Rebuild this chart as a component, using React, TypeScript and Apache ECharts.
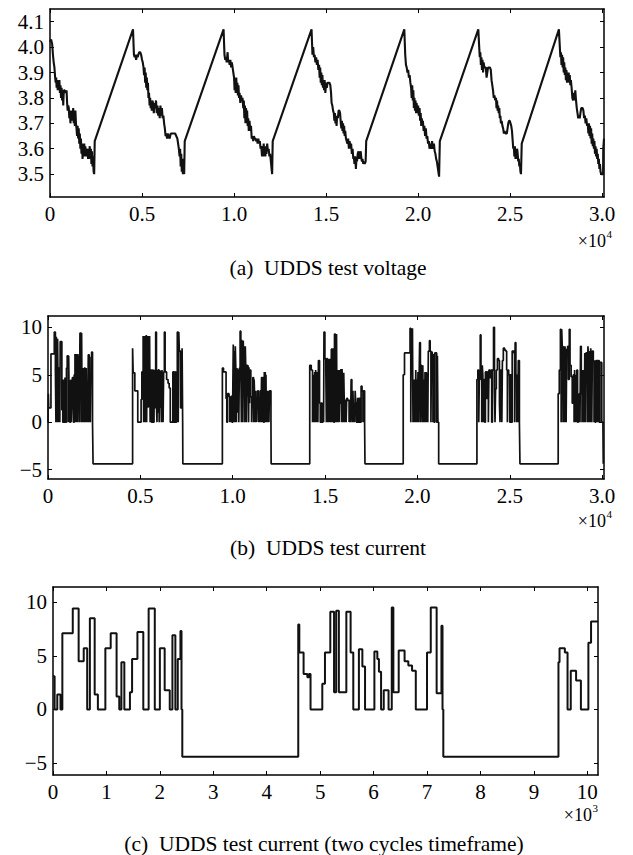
import React, { useEffect, useRef } from "react";
import * as echarts from "echarts";

// ---------- Panel (a): UDDS test voltage (time s, voltage V) ----------
const voltSeg1 = [
  [0, 4.02], [60, 4.03], [120, 4.01], [160, 3.97], [200, 3.94], [240, 3.92], [280, 3.88], [310, 3.86], [335, 3.88],
  [360, 3.84], [390, 3.87], [420, 3.83], [450, 3.86], [480, 3.84], [510, 3.87], [540, 3.82], [570, 3.85], [600, 3.8],
  [630, 3.84], [660, 3.79], [690, 3.83], [720, 3.77], [750, 3.83], [800, 3.83], [850, 3.82], [900, 3.83], [930, 3.78],
  [960, 3.75], [990, 3.77], [1020, 3.76], [1050, 3.72], [1080, 3.75], [1110, 3.7], [1140, 3.74], [1170, 3.71],
  [1200, 3.75], [1230, 3.72], [1260, 3.76], [1290, 3.7], [1320, 3.73], [1350, 3.69], [1380, 3.75], [1410, 3.7],
  [1440, 3.68], [1470, 3.65], [1500, 3.69], [1530, 3.64], [1560, 3.68], [1590, 3.62], [1620, 3.66], [1650, 3.6],
  [1680, 3.64], [1710, 3.58], [1740, 3.62], [1770, 3.56], [1800, 3.61], [1830, 3.57], [1860, 3.62], [1890, 3.58],
  [1920, 3.61], [1950, 3.57], [1980, 3.6], [2010, 3.58], [2040, 3.6], [2070, 3.56], [2100, 3.6], [2130, 3.58],
  [2160, 3.61], [2190, 3.56], [2220, 3.6], [2250, 3.54], [2280, 3.59], [2310, 3.53], [2340, 3.57], [2370, 3.51],
  [2400, 3.5], [2430, 3.63], [4510, 4.07],
];
const voltSeg2 = [
  [4560, 3.97], [4600, 3.96], [4640, 3.97], [4680, 3.95], [4720, 3.97], [4760, 3.96], [4800, 3.97], [4850, 3.98],
  [4900, 3.98], [4950, 3.97], [5000, 3.95], [5040, 3.94], [5080, 3.92], [5110, 3.89], [5140, 3.92], [5170, 3.86],
  [5200, 3.9], [5230, 3.84], [5260, 3.88], [5290, 3.83], [5320, 3.86], [5350, 3.8], [5380, 3.82], [5410, 3.77],
  [5440, 3.8], [5470, 3.76], [5500, 3.79], [5530, 3.75], [5560, 3.79], [5600, 3.78], [5640, 3.74], [5680, 3.78],
  [5720, 3.76], [5760, 3.79], [5800, 3.74], [5840, 3.77], [5880, 3.73], [5920, 3.76], [5960, 3.72], [6000, 3.77],
  [6040, 3.73], [6080, 3.76], [6120, 3.72], [6160, 3.73], [6200, 3.7], [6240, 3.68], [6280, 3.65], [6320, 3.66],
  [6360, 3.64], [6400, 3.66], [6450, 3.65], [6500, 3.64], [6560, 3.66], [6640, 3.66], [6720, 3.66], [6800, 3.66],
  [6860, 3.65], [6920, 3.64], [6960, 3.62], [7000, 3.6], [7040, 3.57], [7070, 3.6], [7100, 3.53], [7130, 3.58],
  [7160, 3.51], [7190, 3.56], [7220, 3.5], [7250, 3.55], [7290, 3.5], [7320, 3.63], [9430, 4.07],
];
const voltSeg3 = [
  [9480, 3.97], [9520, 3.95], [9560, 3.96], [9600, 3.94], [9650, 3.98], [9680, 3.94], [9720, 3.95], [9760, 3.93],
  [9800, 3.95], [9840, 3.92], [9880, 3.94], [9920, 3.92], [9960, 3.9], [10000, 3.88], [10030, 3.83], [10060, 3.87],
  [10090, 3.82], [10120, 3.88], [10150, 3.83], [10180, 3.86], [10210, 3.81], [10240, 3.85], [10270, 3.8],
  [10300, 3.82], [10340, 3.78], [10380, 3.81], [10420, 3.79], [10460, 3.8], [10500, 3.76], [10530, 3.79],
  [10560, 3.72], [10590, 3.77], [10620, 3.7], [10650, 3.76], [10680, 3.71], [10710, 3.75], [10740, 3.69],
  [10770, 3.72], [10800, 3.67], [10840, 3.71], [10880, 3.67], [10920, 3.69], [10960, 3.64], [11000, 3.65],
  [11040, 3.63], [11080, 3.65], [11120, 3.64], [11160, 3.64], [11200, 3.63], [11240, 3.64], [11280, 3.62],
  [11320, 3.64], [11360, 3.62], [11400, 3.63], [11440, 3.6], [11480, 3.61], [11520, 3.57], [11550, 3.61],
  [11580, 3.57], [11610, 3.62], [11640, 3.58], [11670, 3.61], [11700, 3.57], [11730, 3.6], [11760, 3.58],
  [11800, 3.62], [11840, 3.59], [11880, 3.6], [11920, 3.57], [11960, 3.58], [12000, 3.55], [12040, 3.52],
  [12070, 3.5], [12100, 3.63], [14210, 4.07],
];
const voltSeg4 = [
  [14260, 3.97], [14300, 4.0], [14340, 3.96], [14380, 3.97], [14420, 3.94], [14460, 3.96], [14500, 3.93],
  [14540, 3.95], [14580, 3.91], [14620, 3.93], [14650, 3.88], [14680, 3.92], [14710, 3.86], [14740, 3.9],
  [14770, 3.85], [14800, 3.89], [14830, 3.84], [14860, 3.87], [14890, 3.83], [14920, 3.87], [14960, 3.82],
  [15000, 3.86], [15040, 3.84], [15080, 3.86], [15130, 3.86], [15180, 3.86], [15230, 3.85], [15270, 3.82],
  [15300, 3.78], [15340, 3.77], [15380, 3.75], [15420, 3.74], [15450, 3.71], [15480, 3.74], [15510, 3.7],
  [15540, 3.73], [15570, 3.69], [15600, 3.73], [15640, 3.72], [15680, 3.75], [15720, 3.75], [15760, 3.74],
  [15800, 3.7], [15830, 3.68], [15860, 3.71], [15890, 3.67], [15920, 3.7], [15950, 3.66], [15980, 3.69],
  [16010, 3.65], [16040, 3.67], [16080, 3.64], [16120, 3.63], [16160, 3.62], [16200, 3.64], [16240, 3.6],
  [16280, 3.63], [16320, 3.6], [16360, 3.62], [16400, 3.58], [16440, 3.6], [16480, 3.56], [16510, 3.57],
  [16540, 3.54], [16580, 3.57], [16620, 3.52], [16650, 3.56], [16680, 3.55], [16720, 3.58], [16760, 3.59],
  [16800, 3.56], [16840, 3.58], [16880, 3.59], [16920, 3.56], [16950, 3.55], [16980, 3.56], [17020, 3.54],
  [17060, 3.55], [17100, 3.54], [17150, 3.55], [17180, 3.63], [19250, 4.07],
];
const voltSeg5 = [
  [19300, 3.97], [19340, 3.93], [19380, 3.92], [19420, 3.9], [19460, 3.91], [19500, 3.88], [19540, 3.89],
  [19580, 3.86], [19620, 3.84], [19650, 3.8], [19680, 3.85], [19710, 3.79], [19740, 3.83], [19770, 3.76],
  [19800, 3.8], [19830, 3.75], [19860, 3.79], [19890, 3.74], [19920, 3.78], [19960, 3.74], [20000, 3.77],
  [20040, 3.73], [20080, 3.76], [20110, 3.71], [20140, 3.74], [20170, 3.69], [20200, 3.72], [20230, 3.69],
  [20260, 3.71], [20300, 3.67], [20340, 3.69], [20380, 3.65], [20420, 3.68], [20460, 3.64], [20500, 3.65],
  [20540, 3.62], [20580, 3.63], [20620, 3.6], [20660, 3.62], [20700, 3.6], [20760, 3.63], [20800, 3.6],
  [20860, 3.62], [20900, 3.59], [20940, 3.58], [20980, 3.56], [21020, 3.55], [21060, 3.53], [21100, 3.51],
  [21140, 3.49], [21180, 3.63], [23270, 4.07],
];
const voltSeg6 = [
  [23320, 4.0], [23350, 3.96], [23380, 3.98], [23410, 3.93], [23440, 3.96], [23470, 3.91], [23500, 3.95],
  [23530, 3.9], [23560, 3.94], [23600, 3.92], [23640, 3.92], [23680, 3.92], [23720, 3.88], [23760, 3.9],
  [23800, 3.92], [23850, 3.92], [23900, 3.92], [23950, 3.91], [23990, 3.87], [24030, 3.85], [24070, 3.83],
  [24110, 3.8], [24150, 3.81], [24190, 3.79], [24230, 3.8], [24260, 3.76], [24290, 3.79], [24320, 3.75],
  [24350, 3.77], [24380, 3.74], [24410, 3.76], [24440, 3.72], [24470, 3.73], [24500, 3.7], [24540, 3.71],
  [24580, 3.69], [24620, 3.68], [24660, 3.66], [24700, 3.67], [24740, 3.66], [24780, 3.66], [24820, 3.66],
  [24860, 3.68], [24900, 3.7], [24940, 3.71], [24980, 3.71], [25020, 3.7], [25060, 3.69], [25100, 3.67],
  [25140, 3.63], [25170, 3.6], [25200, 3.61], [25230, 3.57], [25260, 3.61], [25290, 3.56], [25320, 3.6],
  [25350, 3.56], [25380, 3.6], [25410, 3.58], [25440, 3.55], [25470, 3.56], [25500, 3.53], [25530, 3.54],
  [25560, 3.51], [25590, 3.5], [25630, 3.62], [27650, 4.07],
];
const voltSeg7 = [
  [27700, 4.0], [27730, 3.96], [27760, 3.98], [27790, 3.93], [27820, 3.97], [27850, 3.92], [27880, 3.96],
  [27910, 3.9], [27940, 3.94], [27970, 3.89], [28000, 3.92], [28030, 3.87], [28060, 3.91], [28090, 3.86],
  [28120, 3.9], [28150, 3.87], [28180, 3.9], [28210, 3.86], [28240, 3.89], [28270, 3.85], [28300, 3.87],
  [28340, 3.84], [28380, 3.8], [28420, 3.79], [28460, 3.82], [28500, 3.79], [28540, 3.83], [28580, 3.79],
  [28620, 3.76], [28660, 3.74], [28700, 3.72], [28740, 3.73], [28780, 3.72], [28820, 3.74], [28860, 3.76],
  [28900, 3.76], [28940, 3.76], [28980, 3.75], [29020, 3.72], [29060, 3.73], [29100, 3.7], [29140, 3.72],
  [29180, 3.69], [29220, 3.7], [29250, 3.66], [29280, 3.7], [29310, 3.65], [29340, 3.69], [29370, 3.64],
  [29400, 3.68], [29430, 3.62], [29460, 3.66], [29490, 3.61], [29520, 3.64], [29550, 3.6], [29580, 3.63],
  [29610, 3.58], [29640, 3.61], [29670, 3.57], [29700, 3.6], [29730, 3.56], [29760, 3.58], [29790, 3.54],
  [29820, 3.56], [29850, 3.52], [29880, 3.54], [29910, 3.51], [29950, 3.5], [30000, 3.5], [30050, 3.5],
  [30060, 3.6], [30080, 3.6], [30100, 3.64],
];

// ---------- Panel (b): UDDS test current, full test (time s, current A) ----------
const curSeg1 = [
  [0, 0], [20, 3], [40, 1.5], [160, 7.2], [340, 9.5], [400, 5.5], [430, 0], [450, 9], [470, 5.5], [500, 0],
  [520, 8.8], [540, 4.5], [570, 0], [600, 5.7], [640, 0], [660, 8.5], [750, 1.3], [800, 0], [840, 4.5], [870, 0],
  [920, 4.7], [950, 0], [1000, 5.7], [1040, 7], [1100, 0], [1120, 7], [1150, 1.2], [1180, 0], [1220, 4.4],
  [1260, 0], [1290, 1.6], [1320, 4.7], [1380, 0], [1420, 5], [1460, 7.2], [1480, 0], [1500, 7], [1520, 2],
  [1540, 7.2], [1560, 0], [1580, 6.8], [1600, 0], [1620, 7.2], [1650, 3], [1680, 7], [1700, 0], [1730, 9.4],
  [1800, 0], [1820, 9.4], [1850, 0], [1870, 5.5], [1890, 0], [1910, 5.7], [1930, 1], [1950, 5.5], [1970, 0],
  [1990, 5.8], [2020, 1.8], [2050, 0], [2070, 5.7], [2090, 0], [2120, 1.8], [2150, 0], [2180, 7.1], [2230, 0],
  [2260, 6.9], [2290, 0], [2320, 4.7], [2360, 7.4], [2410, 0], [2440, -4.4],
];
const curSeg2 = [
  [4580, 7.8], [4610, 5.2], [4700, 3.3], [4860, 0], [5040, 2.4], [5080, 5.3], [5150, 9.1], [5180, 0],
  [5200, 9.1], [5220, 5.3], [5240, 9.1], [5260, 0], [5280, 9.1], [5300, 2], [5320, 9.2], [5340, 0], [5370, 9.1],
  [5400, 1.6], [5440, 9.1], [5470, 5.5], [5500, 9.1], [5530, 0], [5560, 5.5], [5600, 0], [5650, 5.5], [5700, 0],
  [5740, 1.5], [5790, 5.5], [5830, 9.5], [5870, 1.8], [5900, 0], [5930, 5.5], [5960, 1], [5990, 5.6], [6020, 0],
  [6050, 5.5], [6080, 1.5], [6110, 5.4], [6140, 0], [6170, 5.5], [6200, 1.8], [6230, 0], [6260, 5.3],
  [6300, 9.5], [6340, 5.3], [6420, 4.5], [6500, 4.1], [6560, 3.6], [6620, 0], [6760, 5.3], [6820, 0],
  [6860, 5.3], [6900, 0], [6960, 5.3], [7000, 9.5], [7050, 0], [7080, 9.5], [7110, 7.5], [7180, 1.5],
  [7260, 7.8], [7290, 0], [7300, -4.4],
];
const curSeg3 = [
  [9440, 5.7], [9500, 5.3], [9640, 2.5], [9680, 0], [9720, 3], [9800, 2.7], [9840, 0], [9870, 2.5], [9900, 0],
  [9930, 2.8], [9960, 0], [10000, 2.5], [10030, 8.2], [10060, 0], [10080, 7.5], [10110, 0], [10140, 8],
  [10170, 5.5], [10200, 0], [10230, 5.7], [10260, 1], [10290, 5.5], [10330, 0], [10360, 5.7], [10400, 9.6],
  [10440, 5.8], [10470, 0], [10490, 8.7], [10520, 5.7], [10550, 0], [10570, 8.6], [10600, 5.6], [10630, 8],
  [10660, 0], [10680, 8], [10710, 5.5], [10740, 0], [10760, 6], [10800, 2.7], [10830, 6], [10860, 0],
  [10880, 5.8], [10910, 2], [10940, 5.5], [10980, 2.7], [11020, 0], [11050, 2.7], [11090, 4.7], [11130, 0],
  [11160, 4.5], [11190, 2.5], [11220, 0], [11250, 3.3], [11280, 0], [11310, 2.5], [11350, 3.3], [11390, 0],
  [11420, 2.5], [11460, 0], [11490, 3.3], [11530, 0], [11560, 4.7], [11600, 0], [11630, 4.7], [11670, 0],
  [11710, 5.3], [11740, 0], [11760, 5.3], [11780, 0], [11800, 5], [11820, 0], [11850, 3.3], [11880, 0],
  [11900, 3.3], [11930, 2], [11960, 0], [11990, 3.3], [12070, 0], [12080, -4.4],
];
const curSeg4 = [
  [14170, 6], [14250, 5.5], [14320, 0], [14350, 5], [14380, 0], [14410, 2.5], [14440, 5.3], [14470, 0],
  [14490, 5.5], [14520, 2.4], [14550, 0], [14580, 5.3], [14610, 0], [14640, 6.5], [14700, 2], [14740, 0],
  [14780, 2], [14830, 0], [14880, 2], [14920, 0], [14940, 9.5], [14990, 6.7], [15040, 5.5], [15070, 0],
  [15090, 6.7], [15130, 3], [15160, 0], [15190, 6.7], [15220, 2.5], [15250, 0], [15280, 6.7], [15310, 0],
  [15340, 7.7], [15400, 0], [15420, 7.7], [15470, 0], [15510, 9.3], [15560, 5.5], [15590, 0], [15620, 9.3],
  [15640, 2], [15670, 0], [15700, 5.5], [15730, 2], [15760, 0], [15790, 5.5], [15820, 2], [15860, 5.6],
  [15890, 0], [15920, 5.6], [15950, 2], [15980, 0], [16010, 5.2], [16040, 2], [16070, 0], [16100, 2.3],
  [16140, 0], [16170, 2.5], [16220, 2.3], [16300, 0], [16330, 2.3], [16380, 0], [16410, 4.5], [16450, 2],
  [16480, 0], [16510, 3.3], [16540, 0], [16570, 2], [16600, 0], [16630, 3.3], [16660, 2], [16700, 0],
  [16760, 2.5], [16800, 0], [16840, 2.5], [16900, 0], [16950, 3.8], [17000, 3.3], [17050, 0], [17080, 3.3],
  [17140, 0], [17160, -4.4],
];
const curSeg5 = [
  [19230, 5], [19300, 7.3], [19600, 9.9], [19640, 0], [19660, 9.6], [19700, 5], [19730, 9.9], [19760, 0],
  [19790, 4.5], [19820, 0], [19850, 4.5], [19880, 0], [19910, 5.5], [19940, 0], [19970, 4.5], [20000, 0],
  [20030, 5.3], [20060, 0], [20090, 4.5], [20120, 8.4], [20160, 0], [20190, 6], [20230, 4.5], [20260, 0],
  [20290, 6], [20320, 0], [20350, 4.5], [20380, 0], [20410, 5.3], [20440, 0], [20470, 5.3], [20500, 0],
  [20530, 5.2], [20560, 0], [20590, 7.5], [20650, 8.6], [20690, 7.5], [20730, 0], [20760, 7.4], [20800, 7],
  [20840, 0], [20870, 7.2], [20900, 0], [20940, 7.3], [21000, 7.3], [21040, 0], [21080, 7], [21110, 0],
  [21150, -4.4],
];
const curSeg6 = [
  [23220, 4.5], [23270, 5.5], [23320, 0], [23350, 4.5], [23400, 9.2], [23440, 5], [23480, 0], [23510, 6],
  [23540, 5], [23570, 0], [23600, 4.5], [23640, 0], [23680, 5.3], [23740, 2.5], [23800, 5.3], [23840, 0],
  [23870, 5.5], [23920, 4.7], [23980, 5.5], [24020, 0], [24060, 5.5], [24120, 10], [24170, 3.5], [24200, 0],
  [24230, 3.5], [24270, 5.5], [24330, 6.7], [24400, 6.5], [24440, 2], [24470, 0], [24500, 5.5], [24540, 2],
  [24570, 0], [24600, 6.5], [24650, 7.8], [24720, 7.6], [24780, 7.5], [24830, 5.5], [24870, 0], [24900, 5.5],
  [24940, 5], [25000, 0], [25040, 5], [25090, 0], [25130, 7.5], [25220, 7.3], [25260, 0], [25290, 8.4],
  [25330, 5], [25370, 0], [25400, 5], [25430, 0], [25460, 6.5], [25520, 0], [25550, -4.4],
];
const curSeg7 = [
  [27620, 3], [27680, 5.5], [27740, 9.8], [27780, 0], [27810, 9.8], [27840, 8], [27880, 0], [27900, 8],
  [27930, 5.5], [27960, 0], [27990, 8], [28020, 5.5], [28050, 0], [28080, 7.7], [28130, 8], [28170, 4.5],
  [28220, 9.8], [28260, 6], [28320, 4.8], [28380, 2], [28440, 5], [28480, 0], [28510, 5.5], [28540, 0],
  [28570, 5], [28600, 0], [28630, 5.5], [28670, 0], [28710, 2], [28760, 3], [28800, 0], [28830, 8], [28870, 3],
  [28910, 0], [28940, 5.5], [28970, 0], [29000, 5.5], [29030, 0], [29060, 7.3], [29090, 0], [29120, 7.3],
  [29160, 7.3], [29200, 0], [29230, 8], [29260, 7], [29290, 0], [29320, 7.5], [29350, 0], [29380, 7.8],
  [29410, 7], [29440, 0], [29470, 7.5], [29520, 6.5], [29560, 0], [29590, 6.5], [29620, 0], [29660, 6.5],
  [29700, 0], [29730, 6.5], [29770, 0], [29800, 6.5], [29840, 0], [29880, 6.3], [29930, 6.3], [29980, 0],
  [30040, 0], [30060, -4.4],
];

// ---------- Panel (c): UDDS test current, two cycles (time s, current A) ----------
const twoCycleCurrent = [
  [0, 3.1], [30, 0], [80, 1.4], [140, 0], [175, 7.1], [370, 9.4], [480, 4.5], [575, 5.7], [640, 0], [690, 8.5],
  [780, 1.4], [840, 0], [980, 5.7], [1080, 7.1], [1190, 1.2], [1240, 0], [1280, 4.4], [1335, 0], [1440, 1.6],
  [1480, 4.7], [1580, 7.2], [1690, 0], [1790, 9.4], [1905, 0], [2000, 5.7], [2090, 1.8], [2185, 0], [2235, 6.9],
  [2290, 0], [2335, 4.7], [2385, 7.3], [2405, 0], [2420, -4.4],
  [4590, 7.9], [4610, 5.3], [4690, 3.3], [4760, 3.0], [4790, 3.3], [4820, 0], [5040, 2.4], [5090, 5.3],
  [5190, 9.1], [5260, 1.6], [5300, 9.2], [5350, 1.6], [5490, 9.1], [5570, 5.3], [5620, 0], [5725, 5.6],
  [5790, 4], [5840, 0], [6015, 5.4], [6070, 4.7], [6100, 3.5], [6140, 0], [6190, 1.8], [6280, 0], [6340, 9.5],
  [6370, 1.6], [6470, 5.5], [6580, 4.5], [6650, 4.1], [6720, 3.6], [6790, 0], [7000, 5.3], [7070, 9.5],
  [7180, 1.5], [7270, 7.8], [7290, 0], [7305, -4.4],
  [9460, 4.4], [9480, 5.7], [9580, 5.3], [9630, 0], [9690, 3.6], [9790, 2.7], [9880, 0], [10020, 6.2],
  [10070, 8.2], [10200, 8.2],
];

// ---------- Ticks ----------
const fullTimeTicks = [0, 5000, 10000, 15000, 20000, 25000, 30000];
const twoCycleTimeTicks = [0, 1000, 2000, 3000, 4000, 5000, 6000, 7000, 8000, 9000, 10000];
const voltageTicks = [3.5, 3.6, 3.7, 3.8, 3.9, 4.0, 4.1];
const currentTicks = [-5, 0, 5, 10];

const captions = [
  "(a)  UDDS test voltage",
  "(b)  UDDS test current",
  "(c)  UDDS test current (two cycles timeframe)",
];

const FONT = "Liberation Serif";
const BLACK = "#000";

function xAxes(gridIndex: number, max: number, ticks: number[], fmt: (v: number) => string) {
  const common = {
    type: "value",
    gridIndex,
    min: 0,
    max,
    splitLine: { show: false },
    axisLine: { show: true, onZero: false, lineStyle: { color: BLACK, width: 1.5 } },
    axisTick: { show: true, inside: true, length: 4, customValues: ticks, lineStyle: { color: BLACK, width: 1 } },
  };
  return [
    {
      ...common,
      position: "bottom",
      axisLabel: {
        show: true, customValues: ticks, formatter: fmt, color: BLACK, fontFamily: FONT, fontSize: 21, margin: 6,
      },
    },
    { ...common, position: "top", axisLabel: { show: false } },
  ];
}

function yAxes(gridIndex: number, min: number, max: number, ticks: number[], fmt: (v: number) => string) {
  const common = {
    type: "value",
    gridIndex,
    min,
    max,
    splitLine: { show: false },
    axisLine: { show: true, onZero: false, lineStyle: { color: BLACK, width: 1.5 } },
    axisTick: { show: true, inside: true, length: 4, customValues: ticks, lineStyle: { color: BLACK, width: 1 } },
  };
  return [
    {
      ...common,
      position: "left",
      axisLabel: {
        show: true, customValues: ticks, formatter: fmt, color: BLACK, fontFamily: FONT, fontSize: 21, margin: 6,
      },
    },
    { ...common, position: "right", axisLabel: { show: false } },
  ];
}

const signed = (v: number) => (v < 0 ? "\u2212" + Math.abs(v) : String(v));

function multiplier(xRight: number, y: number, exp: string) {
  return [
    {
      type: "text",
      x: xRight,
      y,
      style: { text: "\u00d710", fontFamily: FONT, fontSize: 18, fill: BLACK, align: "right", verticalAlign: "middle" },
    },
    {
      type: "text",
      x: xRight + 0.5,
      y: y - 7,
      style: { text: exp, fontFamily: FONT, fontSize: 11, fill: BLACK, align: "left", verticalAlign: "middle" },
    },
  ];
}

function caption(x: number, y: number, text: string) {
  return {
    type: "text",
    x,
    y,
    style: { text, fontFamily: FONT, fontSize: 21.5, fill: BLACK, align: "center", verticalAlign: "middle" },
  };
}

export default function App() {
  const ref = useRef<HTMLDivElement>(null);

  useEffect(() => {
    if (!ref.current) return;
    const chart = echarts.init(ref.current, undefined, { renderer: "svg" });

    const voltage = [...voltSeg1, ...voltSeg2, ...voltSeg3, ...voltSeg4, ...voltSeg5, ...voltSeg6, ...voltSeg7];
    const current = [...curSeg1, ...curSeg2, ...curSeg3, ...curSeg4, ...curSeg5, ...curSeg6, ...curSeg7];

    const option: any = {
      animation: false,
      backgroundColor: "#fff",
      textStyle: { fontFamily: FONT },
      grid: [
        { left: 50, right: 29, top: 9, height: 188 },
        { left: 48, right: 29, top: 316, height: 163 },
        { left: 53, right: 35, top: 587, height: 188 },
      ],
      xAxis: [
        ...xAxes(0, 30100, fullTimeTicks, (v: number) => (v === 0 ? "0" : (v / 10000).toFixed(1))),
        ...xAxes(1, 30100, fullTimeTicks, (v: number) => (v === 0 ? "0" : (v / 10000).toFixed(1))),
        ...xAxes(2, 10200, twoCycleTimeTicks, (v: number) => String(Math.round(v / 1000))),
      ],
      yAxis: [
        ...yAxes(0, 3.41, 4.15, voltageTicks, (v: number) => v.toFixed(1)),
        ...yAxes(1, -6, 11.2, currentTicks, signed),
        ...yAxes(2, -6.1, 11.4, currentTicks, signed),
      ],
      series: [
        {
          type: "line",
          xAxisIndex: 0,
          yAxisIndex: 0,
          data: voltage,
          symbol: "none",
          silent: true,
          lineStyle: { color: "#111", width: 2.1 },
        },
        {
          type: "line",
          step: "end",
          xAxisIndex: 2,
          yAxisIndex: 2,
          data: current,
          symbol: "none",
          silent: true,
          lineStyle: { color: "#111", width: 1.7 },
        },
        {
          type: "line",
          step: "end",
          xAxisIndex: 4,
          yAxisIndex: 4,
          data: twoCycleCurrent,
          symbol: "none",
          silent: true,
          lineStyle: { color: "#111", width: 2 },
        },
      ],
      graphic: [
        ...multiplier(606, 241, "4"),
        caption(328, 268, captions[0]),
        ...multiplier(606, 521, "4"),
        caption(328, 548, captions[1]),
        ...multiplier(592, 815, "3"),
        caption(324, 844, captions[2]),
      ],
    };

    chart.setOption(option);
    return () => chart.dispose();
  }, []);

  return (
    <div
      ref={ref}
      style={{ position: "absolute", left: 0, top: 0, width: 633, height: 855, background: "#fff" }}
    />
  );
}
